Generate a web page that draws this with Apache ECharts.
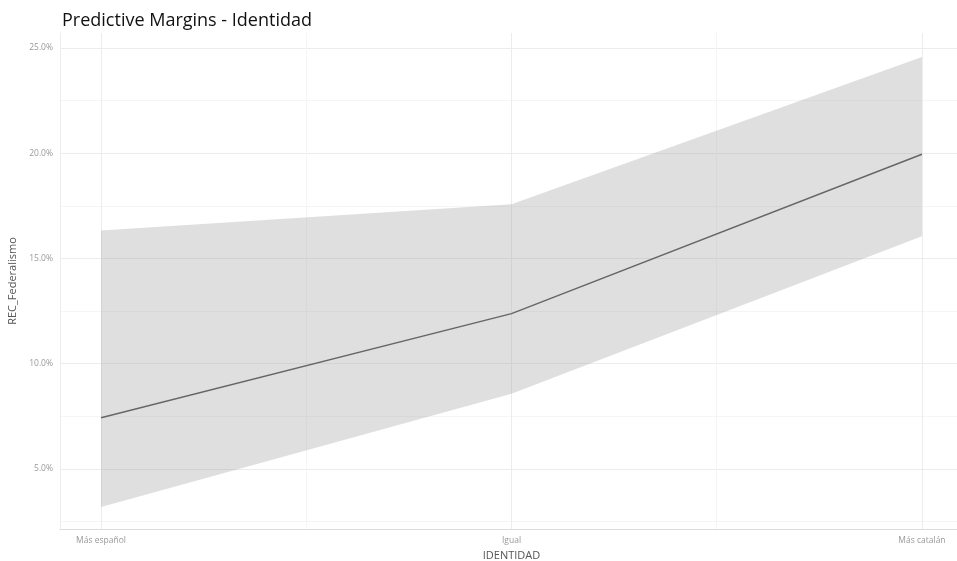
<!DOCTYPE html>
<html>
<head>
<meta charset="utf-8">
<script src="https://cdn.jsdelivr.net/npm/echarts@6/dist/echarts.min.js"></script>
<style>html,body{margin:0;padding:0;background:#fff;}#c{width:957px;height:561px;}</style>
</head>
<body>
<div id="c"></div>
<script>
const categories = ['Más español', 'Igual', 'Más catalán'];
const margin = [7.43, 12.38, 19.95];
const lower = [3.19, 8.57, 16.05];
const upper = [16.33, 17.57, 24.57];
const yTicks = [5, 10, 15, 20, 25];
const yMinor = [2.5, 7.5, 12.5, 17.5, 22.5];

const xPos = categories.map((c, i) => i + 1);
const xMinor = [1.5, 2.5];

const chart = echarts.init(document.getElementById('c'), null, {renderer: 'canvas'});
const font = '"Open Sans", "Noto Sans", sans-serif';

const gridLines = [];
yTicks.forEach(v => gridLines.push({yAxis: v, lineStyle: {color: '#ececec', width: 1, type: 'solid'}}));
yMinor.forEach(v => gridLines.push({yAxis: v, lineStyle: {color: '#f5f5f5', width: 1, type: 'solid'}}));
xPos.forEach(v => gridLines.push({xAxis: v, lineStyle: {color: '#ececec', width: 1, type: 'solid'}}));
xMinor.forEach(v => gridLines.push({xAxis: v, lineStyle: {color: '#f5f5f5', width: 1, type: 'solid'}}));

chart.setOption({
  animation: false,
  backgroundColor: '#fff',
  title: {
    text: 'Predictive Margins - Identidad',
    left: 57, top: 7,
    textStyle: {fontFamily: font, fontSize: 18, fontWeight: 'normal', color: '#111'}
  },
  grid: {left: 60, top: 33, right: -6, bottom: 32, outerBoundsMode: 'none', containLabel: false},
  xAxis: {
    type: 'value', min: 0.9, max: 3.1,
    name: 'IDENTIDAD', nameLocation: 'middle', nameGap: 18,
    nameTextStyle: {fontFamily: font, fontSize: 11, color: '#555'},
    axisLine: {show: true, lineStyle: {color: '#dcdcdc', width: 1}},
    axisTick: {show: false},
    splitLine: {show: false},
    axisLabel: {
      customValues: xPos, color: '#999', fontSize: 8.5, fontFamily: font, margin: 7,
      formatter: v => categories[Math.round(v) - 1] || ''
    }
  },
  yAxis: {
    type: 'value', min: 2.15, max: 25.71,
    name: 'REC_Federalismo', nameLocation: 'middle', nameGap: 38, nameRotate: 90,
    nameTextStyle: {fontFamily: font, fontSize: 11, color: '#555'},
    axisLine: {show: true, lineStyle: {color: '#ececec', width: 1}},
    axisTick: {show: false},
    splitLine: {show: false},
    axisLabel: {
      customValues: yTicks, color: '#999', fontSize: 8.5, fontFamily: font, margin: 7,
      formatter: v => v.toFixed(1) + '%'
    }
  },
  series: [
    {
      type: 'line', silent: true, data: [], symbol: 'none',
      markLine: {silent: true, symbol: 'none', label: {show: false}, data: gridLines, z: 0}
    },
    {
      name: 'band', type: 'custom', silent: true, z: 3,
      data: [0],
      renderItem: function (params, api) {
        const top = xPos.map((x, i) => api.coord([x, upper[i]]));
        const bot = xPos.map((x, i) => api.coord([x, lower[i]])).reverse();
        return {
          type: 'polygon',
          shape: {points: top.concat(bot)},
          style: {fill: 'rgba(150,150,150,0.3)', stroke: null}
        };
      }
    },
    {
      name: 'margin', type: 'line', symbol: 'none',
      lineStyle: {color: '#666', width: 1.5},
      data: xPos.map((x, i) => [x, margin[i]]), z: 5
    }
  ]
});
</script>
</body>
</html>
